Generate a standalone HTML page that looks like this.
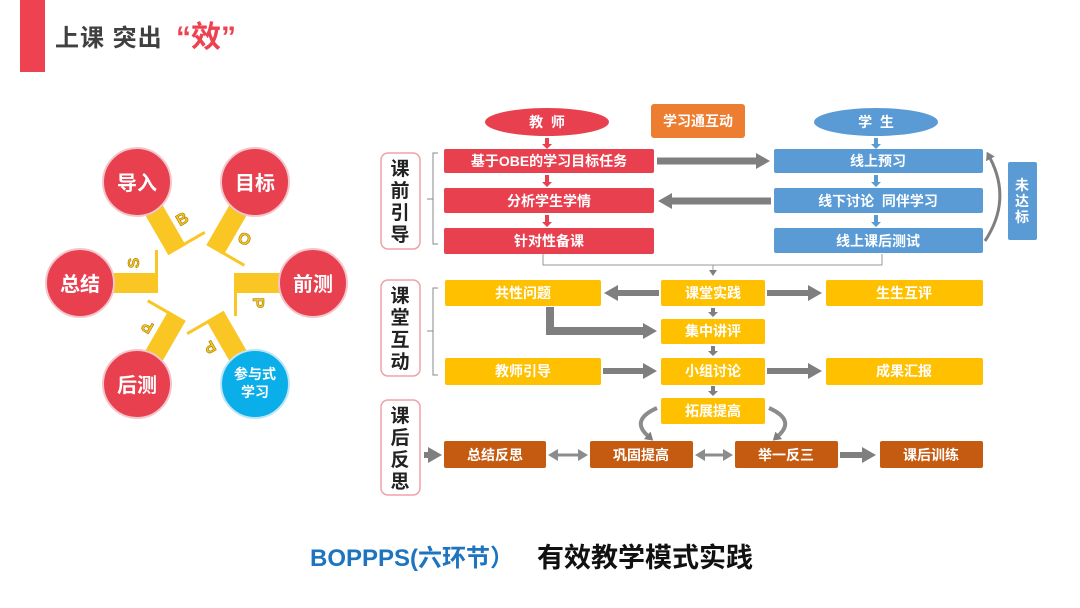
<!DOCTYPE html>
<html><head><meta charset="utf-8"><style>
html,body{margin:0;padding:0;background:#fff;}
svg{display:block;font-family:"Liberation Sans","Noto Sans CJK SC",sans-serif;}
.w{fill:#fff;font-weight:bold;font-size:14px;text-anchor:middle;dominant-baseline:central;}
.lab{fill:#222;font-weight:bold;font-size:19px;text-anchor:middle;}
</style></head><body>
<svg width="1080" height="608" viewBox="0 0 1080 608" xmlns="http://www.w3.org/2000/svg">
<defs>
<marker id="ga" markerUnits="userSpaceOnUse" markerWidth="14" markerHeight="16" refX="2" refY="8" orient="auto"><path d="M0,0 L14,8 L0,16 Z" fill="#7f7f7f"/></marker>
<marker id="gs" markerUnits="userSpaceOnUse" markerWidth="8" markerHeight="10" refX="1" refY="5" orient="auto"><path d="M0,0 L8,5 L0,10 Z" fill="#7f7f7f"/></marker>
<marker id="gb" markerUnits="userSpaceOnUse" markerWidth="10" markerHeight="12" refX="1" refY="6" orient="auto-start-reverse"><path d="M0,0 L10,6 L0,12 Z" fill="#8c8c8c"/></marker>
</defs>
<!-- header -->
<rect x="20" y="0" width="25" height="72" fill="#EE4250"/>
<text x="55" y="46" font-size="24" font-weight="bold" fill="#404040" letter-spacing="1">上课 突出</text>
<text x="176" y="47" font-size="30" font-weight="bold" fill="#EE4250">“效”</text>

<!-- BOPPPS wheel -->
<g transform="translate(196,283)">
 <g fill="#F9C623">
  <g transform="rotate(0)"><rect x="-100" y="-10" width="62" height="20"/><rect x="-41" y="-33" width="3" height="43"/><text x="-63" y="-14" font-size="16" font-weight="bold" transform="rotate(-90 -63 -20)" stroke="#a07a00" stroke-width="0.6" text-anchor="middle">S</text></g>
  <g transform="rotate(60)"><rect x="-100" y="-10" width="62" height="20"/><rect x="-41" y="-33" width="3" height="43"/><text x="-63" y="-14" font-size="16" font-weight="bold" transform="rotate(-90 -63 -20)" stroke="#a07a00" stroke-width="0.6" text-anchor="middle">B</text></g>
  <g transform="rotate(120)"><rect x="-100" y="-10" width="62" height="20"/><rect x="-41" y="-33" width="3" height="43"/><text x="-63" y="-14" font-size="16" font-weight="bold" transform="rotate(-90 -63 -20)" stroke="#a07a00" stroke-width="0.6" text-anchor="middle">O</text></g>
  <g transform="rotate(180)"><rect x="-100" y="-10" width="62" height="20"/><rect x="-41" y="-33" width="3" height="43"/><text x="-63" y="-14" font-size="16" font-weight="bold" transform="rotate(-90 -63 -20)" stroke="#a07a00" stroke-width="0.6" text-anchor="middle">P</text></g>
  <g transform="rotate(240)"><rect x="-100" y="-10" width="62" height="20"/><rect x="-41" y="-33" width="3" height="43"/><text x="-63" y="-14" font-size="16" font-weight="bold" transform="rotate(-90 -63 -20)" stroke="#a07a00" stroke-width="0.6" text-anchor="middle">P</text></g>
  <g transform="rotate(300)"><rect x="-100" y="-10" width="62" height="20"/><rect x="-41" y="-33" width="3" height="43"/><text x="-63" y="-14" font-size="16" font-weight="bold" transform="rotate(-90 -63 -20)" stroke="#a07a00" stroke-width="0.6" text-anchor="middle">P</text></g>
 </g>
</g>
<g stroke="#f3c6cb" stroke-width="2">
 <circle cx="137" cy="182" r="34" fill="#E8404F"/>
 <circle cx="255" cy="182" r="34" fill="#E8404F"/>
 <circle cx="313" cy="283" r="34" fill="#E8404F"/>
 <circle cx="80" cy="283" r="34" fill="#E8404F"/>
 <circle cx="137" cy="384" r="34" fill="#E8404F"/>
 <circle cx="255" cy="384" r="34" fill="#0AAEE8" stroke="#bfe6f7"/>
</g>
<g fill="#fff" font-weight="bold" font-size="20" text-anchor="middle">
 <text x="137" y="190">导入</text><text x="255" y="190">目标</text><text x="313" y="291">前测</text>
 <text x="80" y="291">总结</text><text x="137" y="392">后测</text>
 <text x="255" y="379" font-size="14">参与式</text><text x="255" y="397" font-size="14">学习</text>
</g>

<!-- section labels -->
<g fill="#fff" stroke="#F2A0A8" stroke-width="1.5">
 <rect x="381" y="153" width="39" height="96" rx="7"/>
 <rect x="381" y="280" width="39" height="96" rx="7"/>
 <rect x="381" y="400" width="39" height="95" rx="7"/>
</g>
<g class="lab">
 <text x="400" y="175">课</text><text x="400" y="197">前</text><text x="400" y="219">引</text><text x="400" y="241">导</text>
 <text x="400" y="302">课</text><text x="400" y="324">堂</text><text x="400" y="346">互</text><text x="400" y="368">动</text>
 <text x="400" y="422">课</text><text x="400" y="444">后</text><text x="400" y="466">反</text><text x="400" y="488">思</text>
</g>
<g fill="none" stroke="#888" stroke-width="1">
 <path d="M438,153 H433 V244 H438 M433,199 H427"/>
 <path d="M438,288 H433 V375 H438 M433,331 H427"/>
</g>

<!-- top section -->
<ellipse cx="547" cy="122" rx="62" ry="14" fill="#E8404F"/>
<text class="w" x="547" y="122">教 &#160;师</text>
<rect x="651" y="104" width="94" height="34" rx="3" fill="#ED7D31"/>
<text class="w" x="698" y="121" font-size="16">学习通互动</text>
<ellipse cx="876" cy="122" rx="62" ry="14" fill="#5B9BD5"/>
<text class="w" x="876" y="122">学 &#160;生</text>

<g fill="#E8404F">
 <rect x="444" y="149" width="210" height="24" rx="2"/><rect x="444" y="188" width="210" height="25" rx="2"/><rect x="444" y="228" width="210" height="26" rx="2"/>
 <path d="M545,138h4v6h3l-5,5l-5,-5h3z M545,175h4v7h3l-5,5l-5,-5h3z M545,215h4v7h3l-5,5l-5,-5h3z"/>
</g>
<g fill="#5B9BD5">
 <rect x="774" y="149" width="209" height="24" rx="2"/><rect x="774" y="188" width="209" height="25" rx="2"/><rect x="774" y="228" width="209" height="25" rx="2"/>
 <path d="M874,138h4v6h3l-5,5l-5,-5h3z M874,175h4v7h3l-5,5l-5,-5h3z M874,215h4v7h3l-5,5l-5,-5h3z"/>
 <rect x="1008" y="162" width="29" height="78" rx="2"/>
</g>
<g class="w" font-size="13">
 <text x="549" y="161">基于OBE的学习目标任务</text><text x="549" y="201">分析学生学情</text><text x="549" y="241">针对性备课</text>
 <text x="878" y="161">线上预习</text><text x="878" y="201">线下讨论 &#160;同伴学习</text><text x="878" y="241">线上课后测试</text>
 <text x="1022" y="185">未</text><text x="1022" y="201">达</text><text x="1022" y="217">标</text>
</g>
<g stroke="#7f7f7f" stroke-width="7" fill="none">
 <line x1="657" y1="161" x2="758" y2="161" marker-end="url(#ga)"/>
 <line x1="771" y1="201" x2="670" y2="201" marker-end="url(#ga)"/>
</g>
<path d="M985,241 Q1012,200 990,158" fill="none" stroke="#7f7f7f" stroke-width="3" marker-end="url(#gs)"/>
<path d="M543,254 V265 H882 V254 M713,265 V270" fill="none" stroke="#999" stroke-width="1"/>
<path d="M709,270 h8 l-4,6 z" fill="#7f7f7f"/>

<!-- middle section -->
<g fill="#FFC000">
 <rect x="445" y="280" width="156" height="26" rx="2"/><rect x="661" y="280" width="104" height="26" rx="2"/><rect x="826" y="280" width="157" height="26" rx="2"/>
 <rect x="661" y="319" width="104" height="25" rx="2"/>
 <rect x="445" y="358" width="156" height="27" rx="2"/><rect x="661" y="358" width="104" height="27" rx="2"/><rect x="826" y="358" width="157" height="27" rx="2"/>
 <rect x="661" y="398" width="104" height="26" rx="2"/>
</g>
<g class="w" font-size="13">
 <text x="523" y="293">共性问题</text><text x="713" y="293">课堂实践</text><text x="904" y="293">生生互评</text>
 <text x="713" y="331">集中讲评</text>
 <text x="523" y="371">教师引导</text><text x="713" y="371">小组讨论</text><text x="904" y="371">成果汇报</text>
 <text x="713" y="411">拓展提高</text>
</g>
<g stroke="#7f7f7f" stroke-width="6" fill="none">
 <line x1="659" y1="293" x2="616" y2="293" marker-end="url(#ga)"/>
 <line x1="767" y1="293" x2="810" y2="293" marker-end="url(#ga)"/>
 <line x1="603" y1="371" x2="645" y2="371" marker-end="url(#ga)"/>
 <line x1="767" y1="371" x2="810" y2="371" marker-end="url(#ga)"/>
 <path d="M550,307 V331 H645" stroke-width="8" marker-end="url(#ga)"/>
</g>
<g fill="#7f7f7f">
 <path d="M711,308h4v4h3l-5,5l-5,-5h3z M711,346h4v5h3l-5,5l-5,-5h3z M711,386h4v5h3l-5,5l-5,-5h3z"/>
</g>
<path d="M657,408 Q630,420 648,436" fill="none" stroke="#8c8c8c" stroke-width="4" marker-end="url(#gs)"/>
<path d="M769,408 Q796,420 778,436" fill="none" stroke="#8c8c8c" stroke-width="4" marker-end="url(#gs)"/>

<!-- bottom section -->
<g fill="#C55A11">
 <rect x="444" y="441" width="102" height="27" rx="2"/><rect x="590" y="441" width="103" height="27" rx="2"/><rect x="735" y="441" width="103" height="27" rx="2"/><rect x="880" y="441" width="103" height="27" rx="2"/>
</g>
<g class="w" font-size="13">
 <text x="495" y="455">总结反思</text><text x="641" y="455">巩固提高</text><text x="786" y="455">举一反三</text><text x="931" y="455">课后训练</text>
</g>
<g stroke="#8c8c8c" stroke-width="3" fill="none">
 <line x1="557" y1="455" x2="579" y2="455" marker-start="url(#gb)" marker-end="url(#gb)"/>
 <line x1="704" y1="455" x2="724" y2="455" marker-start="url(#gb)" marker-end="url(#gb)"/>
</g>
<g stroke="#7f7f7f" stroke-width="6" fill="none">
 <line x1="424" y1="455" x2="430" y2="455" marker-end="url(#ga)"/>
 <line x1="840" y1="455" x2="864" y2="455" marker-end="url(#ga)"/>
</g>

<!-- footer -->
<text x="310" y="566" font-size="24" font-weight="bold" fill="#1F74C0">BOPPPS(六环节）</text>
<text x="537" y="567" font-size="27" font-weight="bold" fill="#111">有效教学模式实践</text>
</svg>
</body></html>
